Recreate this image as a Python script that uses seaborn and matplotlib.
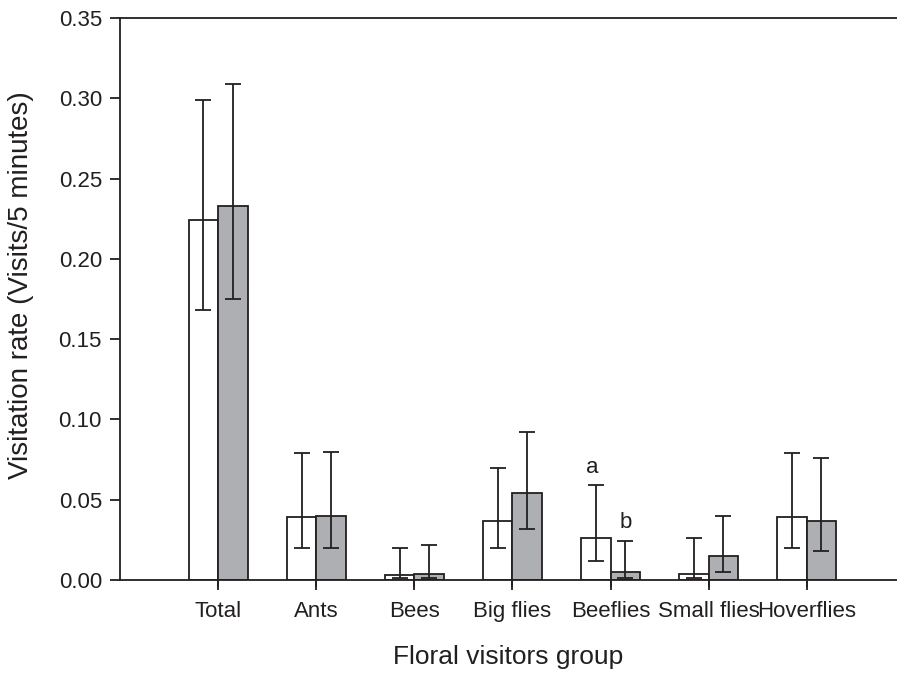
import pandas as pd
import seaborn as sns
import matplotlib.pyplot as plt
import matplotlib.transforms as mtransforms
import numpy as np

# values
groups = ['Total', 'Ants', 'Bees', 'Big flies', 'Beeflies', 'Small flies', 'Hoverflies']
series = ['white', 'grey']

white_mean = [0.224, 0.039, 0.003, 0.037, 0.026, 0.004, 0.039]
white_low = [0.168, 0.020, 0.001, 0.020, 0.012, 0.001, 0.020]
white_high = [0.299, 0.079, 0.020, 0.070, 0.059, 0.026, 0.079]

grey_mean = [0.233, 0.040, 0.004, 0.054, 0.005, 0.015, 0.037]
grey_low = [0.175, 0.020, 0.001, 0.032, 0.001, 0.005, 0.018]
grey_high = [0.309, 0.080, 0.022, 0.092, 0.024, 0.040, 0.076]

letters = ['a', 'b']
letter_group = 'Beeflies'
letter_y = [0.070, 0.0355]

yticks = [0.00, 0.05, 0.10, 0.15, 0.20, 0.25, 0.30, 0.35]

dark = '#231f20'
grey = '#adafb2'

df = pd.DataFrame({
    'group': groups * 2,
    'site': [series[0]] * len(groups) + [series[1]] * len(groups),
    'rate': white_mean + grey_mean,
    'low': white_low + grey_low,
    'high': white_high + grey_high,
})

sns.set_style('ticks')
plt.rcParams['font.family'] = ['Liberation Sans', 'DejaVu Sans']

fig = plt.figure(figsize=(8.97, 6.74), dpi=100)
ax = fig.add_axes([0.1338, 0.1395, 0.8662, 0.8338])

sns.barplot(data=df, x='group', y='rate', hue='site', order=groups,
            hue_order=series, palette=['white', grey], width=0.6,
            edgecolor=dark, linewidth=1.3, errorbar=None, legend=False,
            saturation=1, ax=ax)

# asymmetric error bars at the centre of each bar
for i, s in enumerate(series):
    sub = df[df['site'] == s].set_index('group').loc[groups]
    xs = np.arange(len(groups)) + (-0.15 if i == 0 else 0.15)
    yerr = [sub['rate'] - sub['low'], sub['high'] - sub['rate']]
    ax.errorbar(xs, sub['rate'], yerr=yerr, fmt='none', ecolor=dark,
                elinewidth=1.3, capsize=5.8, capthick=1.3, zorder=5)

# significance letters
gi = groups.index(letter_group)
for j, (lt, yy) in enumerate(zip(letters, letter_y)):
    ax.text(gi + (-0.19 if j == 0 else 0.15), yy, lt, fontsize=16,
            ha='center', va='center', color=dark)

ax.set_xlim(-1, 6.92)
ax.set_ylim(0, 0.35)
ax.set_xticks(range(len(groups)))
ax.set_xticklabels(groups)
ax.set_yticks(yticks)
ax.set_yticklabels([f'{t:.2f}' for t in yticks])

for side in ['left', 'bottom', 'top']:
    ax.spines[side].set_visible(True)
    ax.spines[side].set_color(dark)
    ax.spines[side].set_linewidth(1.3)
ax.spines['right'].set_visible(False)

ax.xaxis.set_ticks_position('bottom')
ax.yaxis.set_ticks_position('left')
ax.tick_params(axis='both', which='major', direction='out', length=7, width=1.3,
               color=dark, labelsize=16, labelcolor=dark, pad=6)
ax.tick_params(axis='x', which='major', pad=8)

# make sure the category tick marks show below the x axis
trans = mtransforms.blended_transform_factory(ax.transData, ax.transAxes)
ax.vlines(ax.get_xticks(), -7 / 562, 0, transform=trans, colors=dark,
          linewidth=1.3, clip_on=False)

ax.set_xlabel('Floral visitors group', fontsize=19, color=dark, labelpad=17)
ax.set_ylabel('Visitation rate (Visits/5 minutes)', fontsize=20, color=dark)
ax.yaxis.set_label_coords(-0.111, 0.525)

fig.savefig('out.png', dpi=100)
